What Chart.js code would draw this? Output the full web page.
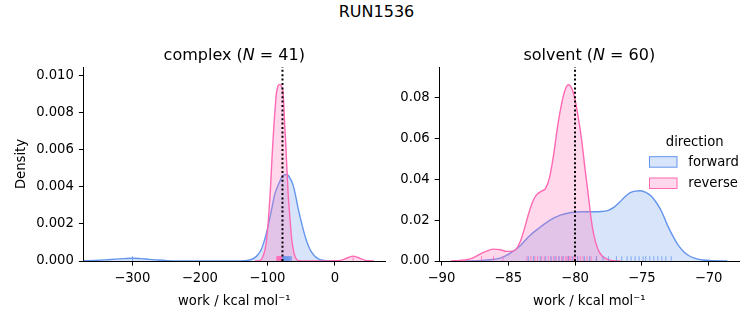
<!DOCTYPE html>
<html>
<head>
<meta charset="utf-8">
<script src="https://cdn.jsdelivr.net/npm/chart.js@4.4.1/dist/chart.umd.min.js"></script>
<style>
  body { margin: 0; background: #fff; }
  #wrap { position: relative; width: 753px; height: 325px; font-family: 'DejaVu Sans', sans-serif; }
  #suptitle { position: absolute; left: 0; top: 4px; width: 753px; text-align: center; font-size: 16px; line-height: 16px; color: #000; }
  canvas { position: absolute; top: 0; }
</style>
</head>
<body>
<div id="wrap">
  <div id="suptitle">RUN1536</div>
  <canvas id="complexChart" width="390" height="325" style="left:0"></canvas>
  <canvas id="solventChart" width="363" height="325" style="left:390px"></canvas>
</div>
<script>
// complex leg, KDE curves
const complexForwardWork = [-372, -355, -340, -325, -312, -300, -288, -275, -262, -248, -230, -200, -160, -140, -130, -124, -119, -114, -109, -104, -100, -96.5, -93, -89, -85, -81.5, -78, -75, -72, -69, -65.5, -62, -58, -54.5, -51, -47, -43, -39, -35, -30, -25, -18, -10, 0]
const complexForwardDensity = [0.00001, 0.00003, 0.00006, 0.0001, 0.00013, 0.00015, 0.00013, 0.00009, 0.00005, 0.00002, 0.000005, 0, 0, 0.000005, 0.00003, 0.00008, 0.00017, 0.00034, 0.00062, 0.00115, 0.0017, 0.0023, 0.0029, 0.0036, 0.004, 0.0043, 0.00455, 0.00464, 0.00466, 0.0046, 0.0044, 0.0041, 0.0035, 0.00285, 0.0023, 0.00172, 0.0012, 0.0008, 0.0005, 0.00027, 0.00013, 0.00004, 0.00001, 0]
const complexReverseWork = [-118, -112, -108, -105, -103, -101, -99, -97.3, -95.6, -93.1, -90.2, -88.3, -86.7, -84.5, -82.5, -81, -79, -76.8, -75.5, -74.3, -73, -71.8, -70.6, -69.4, -67.6, -65.8, -64, -62, -60, -57, -53, -45, -10, 0, 8, 14, 20, 27, 34, 40, 46, 52, 58]
const complexReverseDensity = [0, 0.00002, 0.00012, 0.0004, 0.0007, 0.0012, 0.00195, 0.0028, 0.00375, 0.00555, 0.00735, 0.0083, 0.009, 0.0094, 0.0095, 0.0095, 0.0094, 0.0091, 0.0083, 0.00735, 0.0065, 0.00555, 0.0047, 0.00375, 0.0028, 0.00195, 0.0012, 0.0007, 0.00035, 0.0001, 0.00002, 0, 0, 0.00001, 0.00003, 0.0001, 0.00019, 0.00026, 0.00019, 0.0001, 0.00003, 0.00001, 0]
const complexForwardRug = [-299.6, -77.2, -76.5, -75.9, -75.1, -74.4, -73.8, -73.1, -72.5, -71.9, -71.2, -70.6, -69.9, -69.1, -68.3, -67.5, -66.6, -65.4, -64.5]
const complexReverseRug = [-86.1, -85.4, -84.8, -84.2, -83.7, -83.1, -82.6, -82.1, -81.6, -81.1, -80.6, -80.1, -79.6, -79.1, -78.5, -78.0, 27.1]
const complexRefWork = -77.6

// solvent leg
const solventForwardWork = [-88.2, -87.2, -86.4, -85.6, -84.9, -84.1, -83.4, -82.6, -81.9, -81.1, -80.3, -79.5, -78.7, -78, -77.5, -77.1, -76.7, -76.3, -75.9, -75.5, -75.1, -74.7, -74.3, -73.9, -73.5, -73.1, -72.7, -72.3, -71.9, -71.5, -71, -70.4, -69.6, -68.6]
const solventForwardDensity = [0, 0.0002, 0.0006, 0.0014, 0.0036, 0.0075, 0.0124, 0.0166, 0.0199, 0.0224, 0.0237, 0.0241, 0.0241, 0.0242, 0.0248, 0.0262, 0.0285, 0.0312, 0.0333, 0.0342, 0.0344, 0.0336, 0.0318, 0.0285, 0.024, 0.0178, 0.0125, 0.008, 0.0048, 0.0027, 0.0013, 0.0005, 0.00015, 0]
const solventReverseWork = [-89.3, -88.6, -88.1, -87.6, -87, -86.5, -86.1, -85.6, -85.1, -84.7, -84.4, -84.1, -83.8, -83.5, -83.2, -82.9, -82.5, -82.2, -81.9, -81.6, -81.3, -81, -80.75, -80.5, -80.25, -80, -79.75, -79.5, -79.25, -79, -78.8, -78.6, -78.3, -78, -77.6, -77.2, -76.6]
const solventReverseDensity = [0, 0.0003, 0.0007, 0.0017, 0.0037, 0.0051, 0.0058, 0.0055, 0.0047, 0.0048, 0.0058, 0.0095, 0.0155, 0.0225, 0.0285, 0.0322, 0.0342, 0.0355, 0.041, 0.052, 0.066, 0.077, 0.0835, 0.0862, 0.0845, 0.079, 0.07, 0.059, 0.045, 0.032, 0.021, 0.013, 0.006, 0.0027, 0.0009, 0.0002, 0]
const solventForwardRug = [-83.5, -83.1, -82.6, -82.2, -81.8, -81.5, -81.2, -80.9, -80.5, -80.2, -79.8, -79.3, -78.9, -78.4, -77.9, -77.5, -76.9, -76.5, -76.1, -75.8, -75.5, -75.2, -74.9, -74.7, -74.4, -74.1, -73.8, -73.5, -73.2, -72.8]
const solventReverseRug = [-87.0, -86.1, -85.4, -83.6, -83.3, -83.0, -82.8, -82.5, -82.3, -82.0, -81.8, -81.6, -81.4, -81.2, -81.0, -80.9, -80.7, -80.6, -80.5, -80.4, -80.3, -80.1, -80.0, -79.8, -79.6, -79.4, -79.1, -78.8, -78.4]
const solventRefWork = -80.0

// axes
const complexXTicks = [-300, -200, -100, 0]
const complexYTicks = [0, 0.002, 0.004, 0.006, 0.008, 0.010]
const solventXTicks = [-90, -85, -80, -75, -70]
const solventYTicks = [0, 0.02, 0.04, 0.06, 0.08]
const complexXLim = [-372.2, 74.2]
const complexYLim = [0, 0.01045]
const solventXLim = [-90.16, -67.7]
const solventYLim = [0, 0.0949]

const directions = ['forward', 'reverse']
const lineColors = ['#6495ed', '#ff69b4']
const fillColors = ['rgba(100,149,237,0.26)', 'rgba(255,105,180,0.26)']
const rugColors = ['rgba(100,149,237,0.75)', 'rgba(255,105,180,0.75)']

Chart.defaults.font.family = "'DejaVu Sans', sans-serif"
Chart.defaults.font.size = 13.2
Chart.defaults.color = '#000'

const minus = v => (v < 0 ? '\u2212' : '') + Math.abs(v)
const pts = (xs, ys) => xs.map((x, i) => ({ x, y: ys[i] }))

const kdeSet = (xs, ys, k) => ({
  label: directions[k],
  data: pts(xs, ys),
  borderColor: lineColors[k],
  backgroundColor: fillColors[k],
  borderWidth: 1.4,
  fill: 'origin',
  pointRadius: 0,
  cubicInterpolationMode: 'monotone',
  order: 3 - k,
})

const rugSet = (xs, k, yLim) => ({
  type: 'scatter',
  data: xs.map(x => ({ x, y: yLim[1] * 0.0125 })),
  pointStyle: 'line',
  rotation: 90,
  pointRadius: 2.4,
  pointHoverRadius: 2.4,
  borderColor: rugColors[k],
  borderWidth: 1,
  order: 1,
})

const refSet = (x, yLim) => ({
  data: [{ x, y: yLim[0] }, { x, y: yLim[1] }],
  borderColor: '#000',
  borderWidth: 2,
  borderDash: [2, 2.4],
  pointRadius: 0,
  fill: false,
  order: 0,
})

// panel title with italic N, like matplotlib mathtext
const panelTitle = {
  id: 'panelTitle',
  afterDraw(chart, args, opts) {
    const { ctx, chartArea } = chart
    const parts = [[opts.name + ' (', 'normal'], ['N', 'italic'], [' = ' + opts.n + ')', 'normal']]
    ctx.save()
    ctx.fillStyle = '#000'
    ctx.textBaseline = 'alphabetic'
    let total = 0
    parts.forEach(p => {
      ctx.font = p[1] + " 16px 'DejaVu Sans'"
      total += ctx.measureText(p[0]).width
    })
    let x = (chartArea.left + chartArea.right) / 2 - total / 2
    parts.forEach(p => {
      ctx.font = p[1] + " 16px 'DejaVu Sans'"
      ctx.fillText(p[0], x, 60)
      x += ctx.measureText(p[0]).width
    })
    ctx.restore()
  },
}

const directionLegend = {
  id: 'directionLegend',
  afterDraw(chart) {
    const ctx = chart.ctx
    ctx.save()
    ctx.font = "13.2px 'DejaVu Sans'"
    ctx.fillStyle = '#000'
    ctx.textAlign = 'center'
    ctx.fillText('direction', 304.7, 145.5)
    ctx.textAlign = 'left'
    directions.forEach((d, k) => {
      const y = 156.7 + k * 21.3
      ctx.fillStyle = fillColors[k]
      ctx.fillRect(259.5, y, 27.5, 10.5)
      ctx.strokeStyle = lineColors[k]
      ctx.lineWidth = 1
      ctx.strokeRect(259.5, y, 27.5, 10.5)
      ctx.fillStyle = '#000'
      ctx.fillText(d, 298.3, y + 9.2)
    })
    ctx.restore()
  },
}

const makeScales = (xLim, yLim, xTicks, yTicks, yDigits, yLeft, showYTitle) => ({
  x: {
    type: 'linear',
    min: xLim[0],
    max: xLim[1],
    afterBuildTicks: s => { s.ticks = xTicks.map(value => ({ value })) },
    afterFit: s => { s.height = 64 },
    ticks: { callback: minus, padding: 5, maxRotation: 0, autoSkip: false, font: { size: 13.2 } },
    grid: { drawOnChartArea: false, color: '#000', tickLength: 4.6, tickWidth: 1 },
    border: { display: true, color: '#000', width: 1 },
    title: { display: true, text: 'work / kcal mol\u207B\u00B9', padding: { top: 0, bottom: 16 }, font: { size: 13.2 } },
  },
  y: {
    min: yLim[0],
    max: yLim[1],
    afterBuildTicks: s => { s.ticks = yTicks.map(value => ({ value })) },
    afterFit: s => { s.width = yLeft },
    ticks: { callback: v => v.toFixed(yDigits), padding: 5, autoSkip: false, font: { size: 13.2 } },
    grid: { drawOnChartArea: false, color: '#000', tickLength: 4.6, tickWidth: 1 },
    border: { display: true, color: '#000', width: 1 },
    title: { display: showYTitle, text: 'Density', padding: { top: 13.5, bottom: 0 }, font: { size: 13.2 } },
  },
})

const baseOptions = {
  responsive: false,
  animation: false,
  devicePixelRatio: 1,
  events: [],
  plugins: { legend: { display: false }, tooltip: { enabled: false } },
}

new Chart(document.getElementById('complexChart'), {
  type: 'line',
  data: {
    datasets: [
      refSet(complexRefWork, complexYLim),
      rugSet(complexForwardRug, 0, complexYLim),
      rugSet(complexReverseRug, 1, complexYLim),
      kdeSet(complexForwardWork, complexForwardDensity, 0),
      kdeSet(complexReverseWork, complexReverseDensity, 1),
    ],
  },
  options: {
    ...baseOptions,
    layout: { padding: { left: 0, right: 5, top: 67, bottom: 0 } },
    scales: makeScales(complexXLim, complexYLim, complexXTicks, complexYTicks, 3, 83.5, true),
    plugins: { ...baseOptions.plugins, panelTitle: { name: 'complex', n: 41 } },
  },
  plugins: [panelTitle],
})

new Chart(document.getElementById('solventChart'), {
  type: 'line',
  data: {
    datasets: [
      refSet(solventRefWork, solventYLim),
      rugSet(solventForwardRug, 0, solventYLim),
      rugSet(solventReverseRug, 1, solventYLim),
      kdeSet(solventForwardWork, solventForwardDensity, 0),
      kdeSet(solventReverseWork, solventReverseDensity, 1),
    ],
  },
  options: {
    ...baseOptions,
    layout: { padding: { left: 0, right: 13.7, top: 67, bottom: 0 } },
    scales: makeScales(solventXLim, solventYLim, solventXTicks, solventYTicks, 2, 49.3, false),
    plugins: { ...baseOptions.plugins, panelTitle: { name: 'solvent', n: 60 } },
  },
  plugins: [panelTitle, directionLegend],
})
</script>
</body>
</html>
